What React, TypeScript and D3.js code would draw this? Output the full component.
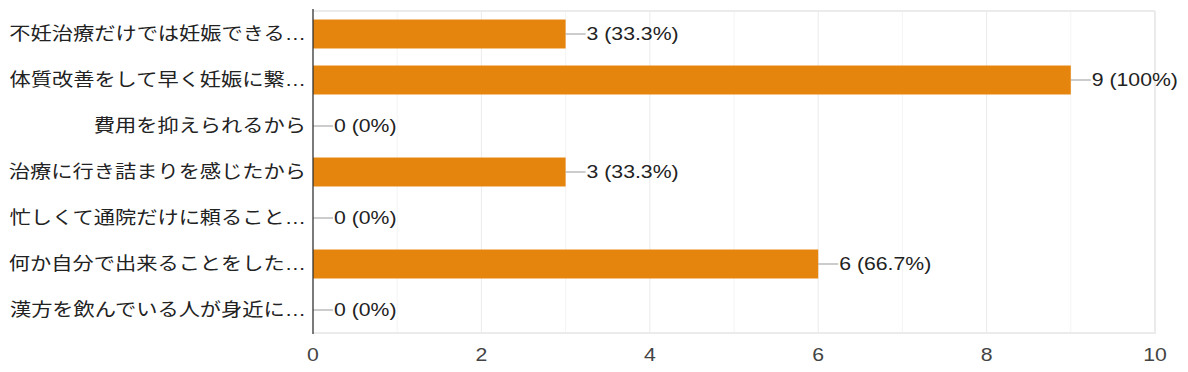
import React from "react";
import * as d3 from "d3";

const categories = [
  "不妊治療だけでは妊娠できる…",
  "体質改善をして早く妊娠に繋…",
  "費用を抑えられるから",
  "治療に行き詰まりを感じたから",
  "忙しくて通院だけに頼ること…",
  "何か自分で出来ることをした…",
  "漢方を飲んでいる人が身近に…",
];
const counts = [3, 9, 0, 3, 0, 6, 0];
const labels = ["3 (33.3%)", "9 (100%)", "0 (0%)", "3 (33.3%)", "0 (0%)", "6 (66.7%)", "0 (0%)"];
const majorTicks = [0, 2, 4, 6, 8, 10];
const minorTicks = [1, 3, 5, 7, 9];

const W = 1188;
const H = 372;
const left = 313;
const right = 1155;
const top = 11;
const bottom = 333;
const font = "Arial, 'Liberation Sans', 'Noto Sans CJK JP', sans-serif";
const SX = 1.18;

function T(props: { x: number; y: number; anchor?: string; fill: string; children: React.ReactNode }) {
  return (
    <text
      transform={`translate(${props.x},${props.y}) scale(${SX},1)`}
      dy="0.35em"
      fontSize={18}
      fill={props.fill}
      textAnchor={props.anchor ?? "start"}
      fontFamily={font}
    >
      {props.children}
    </text>
  );
}

export default function App() {
  const x = d3.scaleLinear().domain([0, 10]).range([left, right]);
  const y = d3.scaleBand<string>().domain(categories).range([top, bottom]).paddingInner(0.37).paddingOuter(0.185);
  return (
    <svg width={W} height={H} style={{ position: "absolute", left: 0, top: 0, background: "#fff" }}>
      {minorTicks.map((t) => (
        <line key={"m" + t} x1={x(t)} x2={x(t)} y1={top} y2={bottom} stroke="#f4f4f4" strokeWidth={1} />
      ))}
      {majorTicks.slice(1, -1).map((t) => (
        <line key={"g" + t} x1={x(t)} x2={x(t)} y1={top} y2={bottom} stroke="#ebebeb" strokeWidth={1} />
      ))}
      <line x1={left} x2={right} y1={top} y2={top} stroke="#ebebeb" strokeWidth={2} />
      <line x1={left} x2={right + 1} y1={bottom} y2={bottom} stroke="#ebebeb" strokeWidth={2} />
      <line x1={right} x2={right} y1={top} y2={bottom} stroke="#ebebeb" strokeWidth={2} />
      {categories.map((c, i) => {
        const yc = (y(c) ?? 0) + y.bandwidth() / 2;
        const xe = x(counts[i]);
        return (
          <g key={c}>
            {counts[i] > 0 && (
              <rect x={x(0)} y={y(c)} width={xe - x(0)} height={y.bandwidth()} fill="#e6850e" />
            )}
            <line x1={xe} x2={xe + 20} y1={yc} y2={yc} stroke="#999" strokeWidth={1} />
            <T x={xe + 21} y={yc} fill="#222">{labels[i]}</T>
            <T x={306} y={yc} fill="#222" anchor="end">{c}</T>
          </g>
        );
      })}
      <line x1={x(0)} x2={x(0)} y1={top - 2} y2={bottom + 1} stroke="#333" strokeWidth={1.3} />
      {majorTicks.map((t) => (
        <T key={"t" + t} x={x(t)} y={355} fill="#444" anchor="middle">{t}</T>
      ))}
    </svg>
  );
}
